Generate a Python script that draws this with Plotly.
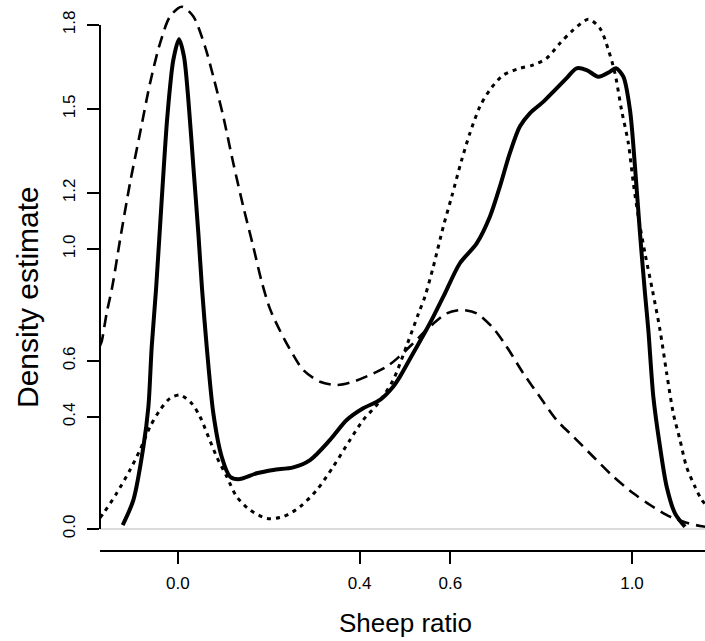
import plotly.graph_objects as go

# ---- data ----
solid_x = [-0.1216, -0.098, -0.076, -0.065, -0.0577, -0.048, -0.0357, -0.0233, -0.0101, 0.0024,
           0.0134, 0.023, 0.034, 0.045, 0.053, 0.0634, 0.078, 0.0964, 0.1147, 0.133, 0.1735, 0.21,
           0.254, 0.291, 0.335, 0.3717, 0.408, 0.445, 0.474, 0.489, 0.518, 0.555, 0.5845, 0.621,
           0.658, 0.687, 0.709, 0.731, 0.753, 0.775, 0.805, 0.827, 0.856, 0.878, 0.900, 0.926,
           0.9515, 0.965, 0.981, 0.9956, 1.0066, 1.0176, 1.0286, 1.036, 1.047, 1.0617, 1.0764,
           1.0947, 1.1167]
solid_y = [0.014, 0.104, 0.294, 0.437, 0.651, 0.86, 1.175, 1.4725, 1.675, 1.749,
           1.687, 1.532, 1.294, 1.056, 0.86, 0.651, 0.413, 0.258, 0.187, 0.1775, 0.199, 0.211,
           0.220, 0.246, 0.318, 0.389, 0.431, 0.461, 0.508, 0.544, 0.6275, 0.7346, 0.8296, 0.949,
           1.020, 1.115, 1.2225, 1.342, 1.437, 1.4845, 1.526, 1.562, 1.610, 1.645, 1.639, 1.615,
           1.633, 1.645, 1.615, 1.496, 1.294, 1.056, 0.842, 0.711, 0.4725, 0.294, 0.151,
           0.056, 0.008]

dashed_x = [-0.1716, -0.168, -0.157, -0.144, -0.1275, -0.1055, -0.0835, -0.0614, -0.0394, -0.0174,
            0.0084, 0.034, 0.0597, 0.078, 0.100, 0.122, 0.144, 0.166, 0.185, 0.203, 0.2248, 0.247,
            0.276, 0.313, 0.350, 0.386, 0.423, 0.460, 0.485, 0.518, 0.555, 0.592, 0.625, 0.658,
            0.6945, 0.724, 0.7606, 0.797, 0.834, 0.871, 0.9148, 0.959, 1.003, 1.040, 1.0837,
            1.120, 1.150, 1.1608]
dashed_y = [0.655, 0.669, 0.770, 0.870, 1.032, 1.235, 1.413, 1.592, 1.7345, 1.830,
            1.865, 1.830, 1.7225, 1.615, 1.4725, 1.306, 1.151, 1.008, 0.880, 0.785, 0.708, 0.641,
            0.568, 0.526, 0.514, 0.526, 0.550, 0.580, 0.612, 0.663, 0.7225, 0.770, 0.782, 0.770,
            0.717, 0.651, 0.556, 0.4725, 0.389, 0.3296, 0.258, 0.187, 0.1275, 0.0857, 0.044,
            0.0225, 0.0107, 0.008]

dotted_x = [-0.1716, -0.164, -0.135, -0.1055, -0.0835, -0.0614, -0.0394, -0.0174, 0.0046, 0.030,
            0.0487, 0.067, 0.0854, 0.1075, 0.1295, 0.1588, 0.1955, 0.232, 0.269, 0.3057, 0.342,
            0.379, 0.408, 0.441, 0.474, 0.505, 0.530, 0.544, 0.5625, 0.5845, 0.603, 0.625, 0.643,
            0.665, 0.687, 0.7166, 0.753, 0.783, 0.812, 0.8414, 0.8707, 0.904, 0.9295, 0.948,
            0.9625, 0.977, 0.992, 1.003, 1.014, 1.0286, 1.045, 1.0617, 1.0764, 1.091, 1.1057,
            1.120, 1.1387, 1.1535, 1.1608]
dotted_y = [0.040, 0.056, 0.1275, 0.211, 0.282, 0.365, 0.425, 0.4667, 0.4786, 0.449,
            0.401, 0.3296, 0.258, 0.187, 0.1154, 0.0679, 0.038, 0.044, 0.0796, 0.139, 0.2225,
            0.318, 0.389, 0.449, 0.532, 0.660, 0.770, 0.830, 0.937, 1.080, 1.187, 1.318, 1.413,
            1.508, 1.568, 1.621, 1.645, 1.657, 1.681, 1.7345, 1.782, 1.820, 1.788, 1.711,
            1.6275, 1.496, 1.3775, 1.2346, 1.115, 0.985, 0.853, 0.711, 0.556, 0.413, 0.318,
            0.2225, 0.151, 0.1036, 0.090]

x_ticks = [0.0, 0.4, 0.6, 1.0]
x_ticklabels = ["0.0", "0.4", "0.6", "1.0"]
y_ticks = [0.0, 0.4, 0.6, 1.0, 1.2, 1.5, 1.8]
y_ticklabels = ["0.0", "0.4", "0.6", "1.0", "1.2", "1.5", "1.8"]

x_title = "Sheep ratio"
y_title = "Density estimate"

FONT = "Arial, Liberation Sans, sans-serif"

fig = go.Figure()
fig.add_trace(go.Scatter(x=dashed_x, y=dashed_y, mode="lines",
                         line=dict(color="black", width=2.6, dash="12px,7px", shape="spline", smoothing=0.8),
                         showlegend=False, hoverinfo="skip"))
fig.add_trace(go.Scatter(x=dotted_x, y=dotted_y, mode="lines",
                         line=dict(color="black", width=3, dash="4px,5px", shape="spline", smoothing=0.8),
                         showlegend=False, hoverinfo="skip"))
fig.add_trace(go.Scatter(x=solid_x, y=solid_y, mode="lines",
                         line=dict(color="black", width=4, shape="spline", smoothing=0.8),
                         showlegend=False, hoverinfo="skip"))

# grey baseline at zero
fig.add_shape(type="line", xref="paper", yref="y", x0=0, x1=1, y0=0, y1=0,
              line=dict(color="#cfcfcf", width=1.5), layer="below")
# y axis line spanning only the tick range
fig.add_shape(type="line", xref="paper", yref="y", x0=0, x1=0, y0=y_ticks[0], y1=y_ticks[-1],
              line=dict(color="black", width=2))

fig.update_layout(
    width=705, height=641,
    margin=dict(l=100, r=0, t=0, b=91),
    plot_bgcolor="white", paper_bgcolor="white",
    font=dict(family=FONT, color="black"),
    xaxis=dict(range=[-0.1716, 1.1608], tickvals=x_ticks, ticktext=x_ticklabels,
               showline=True, linecolor="black", linewidth=2,
               ticks="outside", ticklen=12, tickwidth=2, tickcolor="black",
               ticklabelstandoff=5,
               showgrid=False, zeroline=False, tickfont=dict(size=17, family=FONT, color="black")),
    yaxis=dict(range=[-0.075, 1.889], tickvals=y_ticks, ticktext=y_ticklabels,
               showline=False, ticks="outside", ticklen=12, tickwidth=2, tickcolor="black",
               tickangle=-90, ticklabelstandoff=5, showgrid=False, zeroline=False,
               tickfont=dict(size=17, family=FONT, color="black")),
    annotations=[
        dict(text=x_title, xref="paper", yref="paper", x=(405 - 100) / 605, y=-(623 - 550) / 550,
             xanchor="center", yanchor="middle", showarrow=False, font=dict(size=26, family=FONT)),
        dict(text=y_title, xref="paper", yref="paper", x=(27 - 100) / 605, y=(550 - 297) / 550,
             xanchor="center", yanchor="middle", textangle=-90, showarrow=False,
             font=dict(size=30, family=FONT)),
    ],
)

fig.write_html("out.html")
